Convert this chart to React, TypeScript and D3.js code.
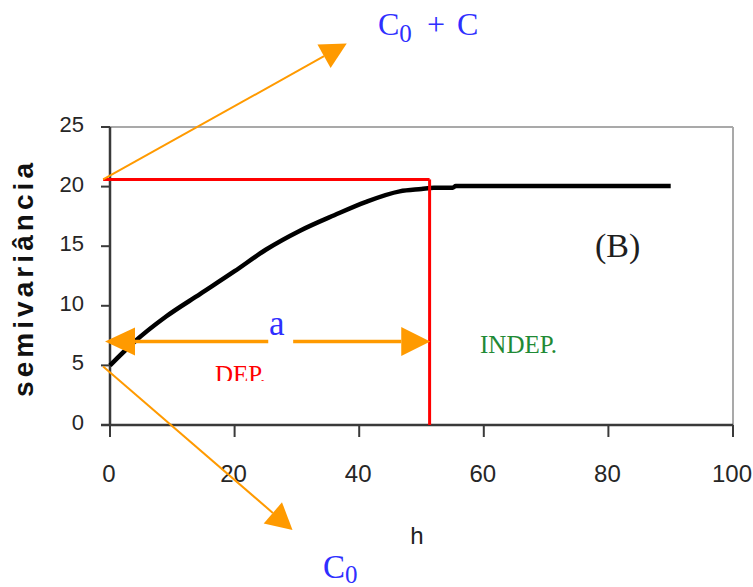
import React from "react";
import * as d3 from "d3";

// ---- data ----
const curveH = [0, 3.75, 9, 14.5, 20, 25, 30.5, 36, 41, 46.5, 50, 52, 55, 55.5, 70, 90];
const curveV = [5.0, 6.9, 9.1, 11.0, 12.9, 14.7, 16.3, 17.6, 18.7, 19.6, 19.8, 19.9, 19.9, 20.05, 20.05, 20.05];

const xTicks = [0, 20, 40, 60, 80, 100];
const yTicks = [0, 5, 10, 15, 20, 25];

const sill = 20.6; // C0 + C
const range = 51.3; // a
const rangeArrowLevel = 7.0;

// annotation arrows in data units [h, value]
const sillArrowFrom = [-1.1, 20.6];
const sillArrowTo = [38.0, 32.0];
const nuggetArrowFrom = [-1.1, 4.9];
const nuggetArrowTo = [29.3, -8.8];
const rangeArrowLeft = -0.8;
const rangeArrowRight = 51.4;
const rangeGap = [25.4, 29.4];

const W = 753;
const H = 587;

const x = d3.scaleLinear().domain([0, 100]).range([110, 733]);
const y = d3.scaleLinear().domain([0, 25]).range([425, 127]);

const ORANGE = "#ff9a00";
const RED = "#ff0000";
const BLUE = "#2f2fff";

function head(tip: [number, number], from: [number, number], len: number, hw: number) {
  const dx = tip[0] - from[0];
  const dy = tip[1] - from[1];
  const l = Math.hypot(dx, dy);
  const ux = dx / l, uy = dy / l;
  const bx = tip[0] - ux * len, by = tip[1] - uy * len;
  const px = -uy, py = ux;
  return {
    points: `${tip[0]},${tip[1]} ${bx + px * hw},${by + py * hw} ${bx - px * hw},${by - py * hw}`,
    base: [bx, by] as [number, number],
  };
}

export default function App() {
  const line = d3
    .line<number>()
    .x((_, i) => x(curveH[i]))
    .y((d) => y(d))
    .curve(d3.curveMonotoneX);

  const sA: [number, number] = [x(sillArrowFrom[0]), y(sillArrowFrom[1])];
  const sB: [number, number] = [x(sillArrowTo[0]), y(sillArrowTo[1])];
  const sH = head(sB, sA, 26, 13.5);
  const nA: [number, number] = [x(nuggetArrowFrom[0]), y(nuggetArrowFrom[1])];
  const nB: [number, number] = [x(nuggetArrowTo[0]), y(nuggetArrowTo[1])];
  const nH = head(nB, nA, 26, 14);

  const ry = y(rangeArrowLevel);
  const rL: [number, number] = [x(rangeArrowLeft), ry];
  const rR: [number, number] = [x(rangeArrowRight), ry];
  const lH = head(rL, rR, 30, 14);
  const rH = head(rR, rL, 29, 14.5);

  const sans = "'Liberation Sans', Arial, sans-serif";
  const serif = "'Liberation Serif', 'Times New Roman', serif";

  return (
    <svg width={W} height={H} style={{ position: "absolute", left: 0, top: 0, background: "#fff" }}>
      <defs>
        <clipPath id="depClip">
          <rect x={0} y={0} width={W} height={381} />
        </clipPath>
      </defs>
      <rect width={W} height={H} fill="#fff" />

      {/* plot frame */}
      <line x1={x(0)} x2={x(100)} y1={y(25)} y2={y(25)} stroke="#a9a9a9" strokeWidth={2} />
      <line x1={x(100)} x2={x(100)} y1={y(25)} y2={y(0)} stroke="#a9a9a9" strokeWidth={2} />

      {/* y axis */}
      <line x1={x(0)} x2={x(0)} y1={y(25)} y2={y(0)} stroke="#3a3a3a" strokeWidth={2.5} />
      {yTicks.map((t) => (
        <g key={"y" + t}>
          <line x1={x(0) - 9} x2={x(0)} y1={y(t)} y2={y(t)} stroke="#3a3a3a" strokeWidth={2} />
          <text x={84} y={y(t) + 5} textAnchor="end" fontFamily={sans} fontSize={22} fill="#262626">
            {t}
          </text>
        </g>
      ))}
      {/* x axis */}
      <line x1={x(0) - 9} x2={x(100)} y1={y(0)} y2={y(0)} stroke="#3a3a3a" strokeWidth={2.5} />
      {xTicks.map((t) => (
        <g key={"x" + t}>
          <line x1={x(t)} x2={x(t)} y1={y(0)} y2={y(0) + 12} stroke="#3a3a3a" strokeWidth={2} />
          <text x={x(t) - 1} y={482} textAnchor="middle" fontFamily={sans} fontSize={24} fill="#262626">
            {t}
          </text>
        </g>
      ))}

      {/* axis titles */}
      <text x={417} y={544} textAnchor="middle" fontFamily={sans} fontSize={24} fill="#222">
        h
      </text>
      <text
        transform={`translate(33,280) rotate(-90)`}
        textAnchor="middle"
        fontFamily={sans}
        fontWeight="bold"
        fontSize={28}
        textLength={234}
        lengthAdjust="spacing"
        fill="#111"
      >
        semivariância
      </text>

      {/* variogram curve */}
      <path d={line(curveV) || ""} fill="none" stroke="#000" strokeWidth={4.5} strokeLinejoin="round" />

      {/* sill and range lines */}
      <line x1={x(sillArrowFrom[0])} x2={x(range)} y1={y(sill)} y2={y(sill)} stroke={RED} strokeWidth={3} />
      <line x1={x(range)} x2={x(range)} y1={y(sill)} y2={y(0)} stroke={RED} strokeWidth={3} />

      {/* range double arrow */}
      <line x1={lH.base[0]} x2={x(rangeGap[0])} y1={ry} y2={ry} stroke={ORANGE} strokeWidth={3.5} />
      <line x1={x(rangeGap[1])} x2={rH.base[0]} y1={ry} y2={ry} stroke={ORANGE} strokeWidth={3.5} />
      <polygon points={lH.points} fill={ORANGE} />
      <polygon points={rH.points} fill={ORANGE} />

      {/* sill arrow */}
      <line x1={sA[0]} y1={sA[1]} x2={sH.base[0]} y2={sH.base[1]} stroke={ORANGE} strokeWidth={2} />
      <polygon points={sH.points} fill={ORANGE} />
      {/* nugget arrow */}
      <line x1={nA[0]} y1={nA[1]} x2={nH.base[0]} y2={nH.base[1]} stroke={ORANGE} strokeWidth={2} />
      <polygon points={nH.points} fill={ORANGE} />

      {/* annotations */}
      <text x={378} y={35} fontFamily={serif} fontSize={32} fill={BLUE}>
        C
        <tspan fontSize={25} dy={7}>0</tspan>
        <tspan x={427} dy={-7}>+</tspan>
        <tspan x={457}>C</tspan>
      </text>
      <text x={323} y={578} fontFamily={serif} fontSize={33} fill={BLUE}>
        C
        <tspan fontSize={25} dy={5}>0</tspan>
      </text>
      <text x={269} y={335} fontFamily={serif} fontSize={35} fill={BLUE}>
        a
      </text>
      <text x={215} y={383} fontFamily={serif} fontSize={25} fill={RED} clipPath="url(#depClip)">
        DEP.
      </text>
      <text x={480} y={353} fontFamily={serif} fontSize={25} fill="#1f8a35">
        INDEP.
      </text>
      <text x={595} y={257} fontFamily={serif} fontSize={34} fill="#1e1e1e">
        (B)
      </text>
    </svg>
  );
}
